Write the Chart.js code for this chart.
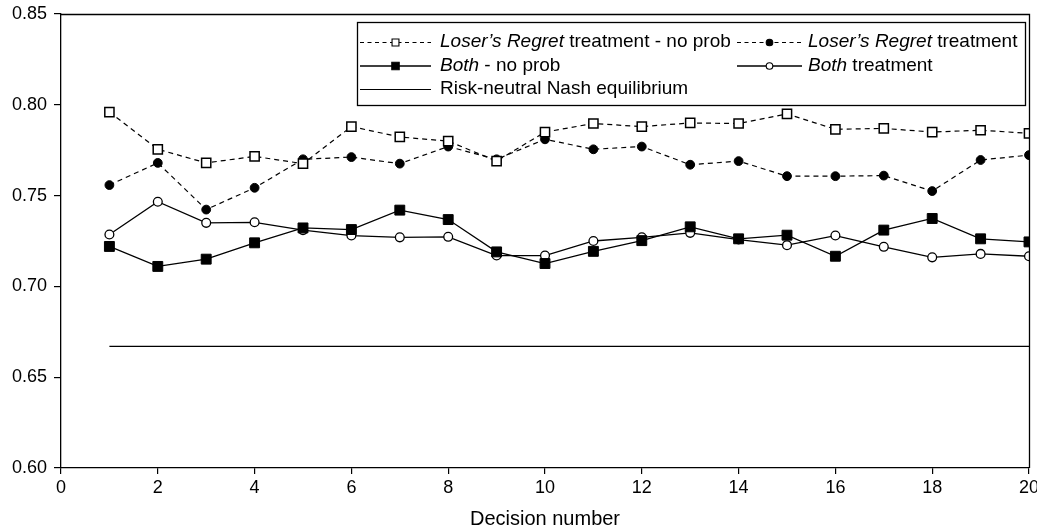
<!DOCTYPE html>
<html>
<head>
<meta charset="utf-8">
<script src="https://cdn.jsdelivr.net/npm/chart.js@4.4.0/dist/chart.umd.min.js"></script>
<style>
  body { margin: 0; background: #fff; }
</style>
</head>
<body>
<canvas id="regretChart" width="1037" height="531"></canvas>
<script>
const decisions = [1, 2, 3, 4, 5, 6, 7, 8, 9, 10, 11, 12, 13, 14, 15, 16, 17, 18, 19, 20];
const loserRegretNoProb = [0.796, 0.7755, 0.768, 0.7716, 0.7676, 0.788, 0.7823, 0.780, 0.769, 0.785,
                           0.7897, 0.788, 0.790, 0.7897, 0.795, 0.7865, 0.787, 0.785, 0.786, 0.7843];
const loserRegret = [0.7558, 0.768, 0.7423, 0.7543, 0.770, 0.7712, 0.7676, 0.777, 0.770, 0.781,
                     0.7755, 0.777, 0.767, 0.769, 0.7607, 0.7607, 0.761, 0.7525, 0.7696, 0.7723];
const bothNoProb = [0.722, 0.711, 0.715, 0.724, 0.7322, 0.7313, 0.742, 0.7368, 0.719, 0.7126,
                    0.7193, 0.7252, 0.7328, 0.7262, 0.7282, 0.7166, 0.731, 0.7374, 0.7262, 0.7245];
const bothTreatment = [0.7286, 0.7466, 0.735, 0.7353, 0.731, 0.728, 0.727, 0.7273, 0.717, 0.717,
                       0.725, 0.727, 0.7295, 0.7258, 0.7227, 0.728, 0.7218, 0.716, 0.7179, 0.7166];
const nashStart = 1;
const nashEnd = 20;
const nashLevel = 0.667;

const FONT = "'Liberation Sans', Arial, sans-serif";

function toPoints(values) {
    return values.map((v, i) => ({ x: decisions[i], y: v }));
}

// legend entries: text pieces, italic flag per piece
const legendItems = [
    { ds: 0, parts: [["Loser\u2019s Regret", true], [" treatment - no prob", false]] },
    { ds: 1, parts: [["Loser\u2019s Regret", true], [" treatment", false]] },
    { ds: 2, parts: [["Both", true], [" - no prob", false]] },
    { ds: 3, parts: [["Both", true], [" treatment", false]] },
    { ds: 4, parts: [["Risk-neutral Nash equilibrium", false]] }
];

const legendBox = {
    id: 'legendBox',
    afterDraw(chart) {
        const ctx = chart.ctx;
        const box = { x: 357, y: 22, w: 668, h: 83 };
        const cols = [{ lineFrom: 360, lineTo: 431, text: 440 }, { lineFrom: 737, lineTo: 802, text: 808 }];
        const rows = [42, 65.5, 89];
        ctx.save();
        ctx.fillStyle = '#fff';
        ctx.fillRect(box.x, box.y, box.w, box.h);
        ctx.strokeStyle = '#000';
        ctx.lineWidth = 1.3;
        ctx.strokeRect(box.x + 0.5, box.y + 0.5, box.w, box.h);

        legendItems.forEach((item, i) => {
            const col = cols[i % 2];
            const y = rows[Math.floor(i / 2)];
            const ds = chart.data.datasets[item.ds];
            ctx.strokeStyle = '#000';
            ctx.lineWidth = ds.borderWidth;
            ctx.setLineDash(ds.borderDash ? [4, 3.5] : []);
            ctx.beginPath();
            ctx.moveTo(col.lineFrom, y + 0.5);
            ctx.lineTo(col.lineTo, y + 0.5);
            ctx.stroke();
            ctx.setLineDash([]);
            if (ds.pointRadius > 0) {
                ctx.fillStyle = ds.pointBackgroundColor;
                ctx.strokeStyle = ds.pointBorderColor;
                ctx.lineWidth = 1.1;
                Chart.helpers.drawPoint(ctx, {
                    pointStyle: ds.pointStyle,
                    radius: ds.pointRadius * 0.75,
                    borderWidth: 1.1,
                    rotation: 0
                }, (col.lineFrom + col.lineTo) / 2, y + 0.5);
            }
            let x = col.text;
            ctx.fillStyle = '#000';
            ctx.textBaseline = 'middle';
            item.parts.forEach(([txt, italic]) => {
                ctx.font = (italic ? 'italic ' : '') + '19px ' + FONT;
                ctx.fillText(txt, x, y);
                x += ctx.measureText(txt).width;
            });
        });
        ctx.restore();
    }
};

const frame = {
    id: 'frame',
    afterDatasetsDraw(chart) {
        const { left, top, right, bottom } = chart.chartArea;
        const ctx = chart.ctx;
        ctx.save();
        ctx.strokeStyle = '#000';
        ctx.lineWidth = 1.3;
        ctx.beginPath();
        ctx.moveTo(left, top + 0.5);
        ctx.lineTo(right + 0.5, top + 0.5);
        ctx.lineTo(right + 0.5, bottom);
        ctx.stroke();
        ctx.restore();
    }
};

const ctx = document.getElementById('regretChart').getContext('2d');
const chart = new Chart(ctx, {
    type: 'line',
    data: {
        datasets: [
            {
                label: 'Loser\u2019s Regret treatment - no prob',
                data: toPoints(loserRegretNoProb),
                borderColor: '#000',
                borderWidth: 1.2,
                borderDash: [5, 4],
                pointStyle: 'rect',
                pointRadius: 6.5,
                pointBackgroundColor: '#fff',
                pointBorderColor: '#000',
                pointBorderWidth: 1.5
            },
            {
                label: 'Loser\u2019s Regret treatment',
                data: toPoints(loserRegret),
                borderColor: '#000',
                borderWidth: 1.2,
                borderDash: [5, 4],
                pointStyle: 'circle',
                pointRadius: 4.4,
                pointBackgroundColor: '#000',
                pointBorderColor: '#000',
                pointBorderWidth: 1
            },
            {
                label: 'Both - no prob',
                data: toPoints(bothNoProb),
                borderColor: '#000',
                borderWidth: 1.3,
                pointStyle: 'rect',
                pointRadius: 7,
                pointBackgroundColor: '#000',
                pointBorderColor: '#000',
                pointBorderWidth: 1
            },
            {
                label: 'Both treatment',
                data: toPoints(bothTreatment),
                borderColor: '#000',
                borderWidth: 1.3,
                pointStyle: 'circle',
                pointRadius: 4.4,
                pointBackgroundColor: '#fff',
                pointBorderColor: '#000',
                pointBorderWidth: 1.3
            },
            {
                label: 'Risk-neutral Nash equilibrium',
                data: [{ x: nashStart, y: nashLevel }, { x: nashEnd, y: nashLevel }],
                borderColor: '#000',
                borderWidth: 1.2,
                pointRadius: 0
            }
        ]
    },
    options: {
        responsive: false,
        animation: false,
        layout: { padding: { left: 0, right: 7, top: 14, bottom: 0 } },
        plugins: {
            legend: { display: false },
            tooltip: { enabled: false }
        },
        elements: { line: { tension: 0 } },
        scales: {
            x: {
                type: 'linear',
                min: 0,
                max: 20,
                afterFit(scale) {
                    scale.height = 63;
                    scale.paddingLeft = 0;
                    scale.paddingRight = 0;
                },
                ticks: {
                    stepSize: 2,
                    color: '#000',
                    font: { family: FONT, size: 18 },
                    padding: 3,
                    maxRotation: 0
                },
                grid: { drawOnChartArea: false, drawTicks: true, tickLength: 6, color: '#000', lineWidth: 1.2 },
                border: { display: true, color: '#000', width: 1.3 },
                title: {
                    display: true,
                    text: 'Decision number',
                    color: '#000',
                    font: { family: FONT, size: 20 },
                    padding: { top: 0, bottom: 0 }
                }
            },
            y: {
                min: 0.6,
                max: 0.85,
                afterFit(scale) {
                    scale.width = 61;
                    scale.paddingTop = 0;
                    scale.paddingBottom = 0;
                },
                ticks: {
                    stepSize: 0.05,
                    color: '#000',
                    font: { family: FONT, size: 18 },
                    padding: 7,
                    callback: v => v.toFixed(2)
                },
                grid: { drawOnChartArea: false, drawTicks: true, tickLength: 7, color: '#000', lineWidth: 1.2 },
                border: { display: true, color: '#000', width: 1.3 }
            }
        }
    },
    plugins: [frame, legendBox]
});
</script>
</body>
</html>
